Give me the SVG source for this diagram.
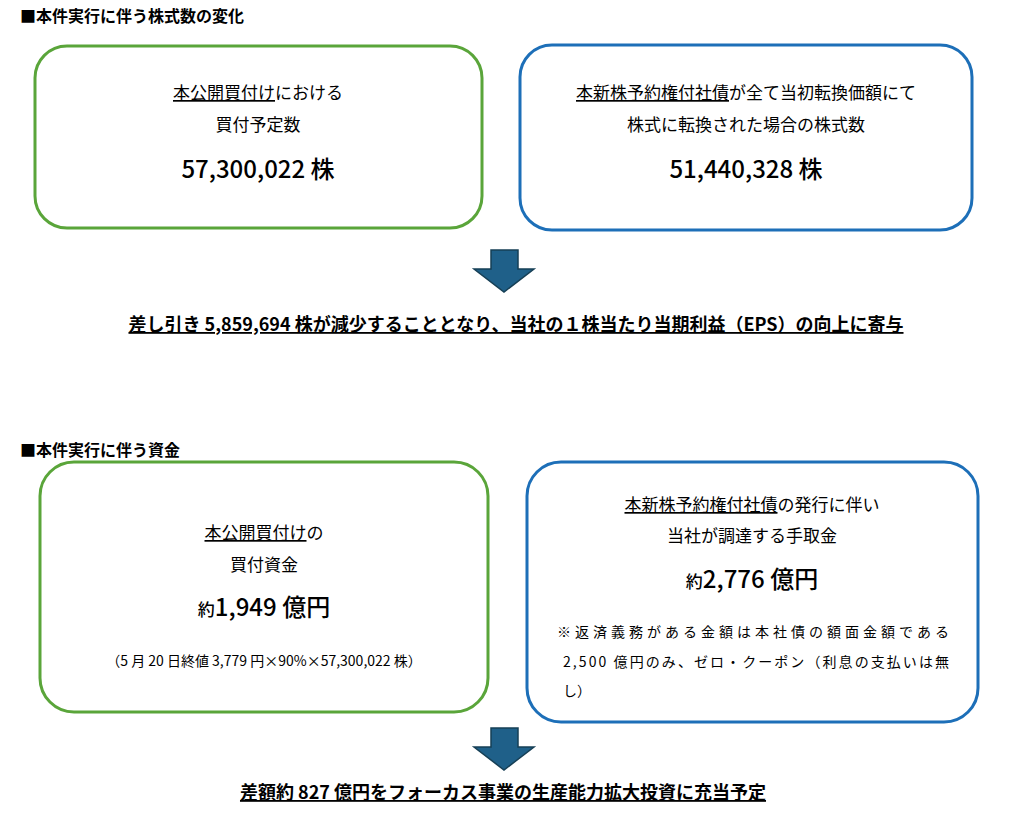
<svg xmlns="http://www.w3.org/2000/svg" width="1015" height="814" viewBox="0 0 1015 814">
<style>
text{font-family:"Noto Sans CJK JP","Noto Sans",sans-serif;fill:#000}
.h{font-size:16px;font-weight:bold}
.m{font-size:17px;text-anchor:middle}
.b{font-size:24px;text-anchor:middle;font-weight:500}
.s{font-size:14px}
.sum{font-size:18px;font-weight:bold;text-anchor:middle;text-decoration:underline}
.g{fill:#fff;stroke:#5aa53a;stroke-width:3}
.bl{fill:#fff;stroke:#1d6fb8;stroke-width:3}
.arr{fill:#1f6089;stroke:#163f55;stroke-width:1.5}
</style>
<rect width="1015" height="814" fill="#fff"/>
<text class="h" x="20" y="22">■本件実行に伴う株式数の変化</text>
<g id="box1"><rect class="g" x="35" y="46" width="447" height="182" rx="32"/>
<text class="m" x="258" y="99"><tspan text-decoration="underline">本公開買付け</tspan>における</text>
<text class="m" x="258" y="131">買付予定数</text>
<text class="b" x="258" y="178">57,300,022 株</text></g>
<g id="box2"><rect class="bl" x="520" y="45" width="452" height="185" rx="32"/>
<text class="m" x="746" y="99"><tspan text-decoration="underline">本新株予約権付社債</tspan>が全て当初転換価額にて</text>
<text class="m" x="746" y="131">株式に転換された場合の株式数</text>
<text class="b" x="746" y="178">51,440,328 株</text></g>
<g id="connectors">
<polygon class="arr" points="491,250 518,250 518,269 534,269 504,292 474,269 491,269"/>
<polygon class="arr" points="491,728 518,728 518,747 534,747 504,770 474,747 491,747"/>
</g>
<g id="sum1"><text class="sum" x="516" y="331">差し引き 5,859,694 株が減少することとなり、当社の１株当たり当期利益（EPS）の向上に寄与</text></g>
<text class="h" x="20" y="456">■本件実行に伴う資金</text>
<g id="box3"><rect class="g" x="40" y="462" width="448" height="250" rx="34"/>
<text class="m" x="264" y="539"><tspan text-decoration="underline">本公開買付け</tspan>の</text>
<text class="m" x="264" y="571">買付資金</text>
<text class="b" x="264" y="616"><tspan font-size="17">約</tspan>1,949 億円</text>
<text class="s" x="264" y="666" text-anchor="middle">（5 月 20 日終値 3,779 円×90%×57,300,022 株）</text></g>
<g id="box4"><rect class="bl" x="527" y="462" width="451" height="260" rx="34"/>
<text class="m" x="752" y="511"><tspan text-decoration="underline">本新株予約権付社債</tspan>の発行に伴い</text>
<text class="m" x="752" y="542">当社が調達する手取金</text>
<text class="b" x="752" y="588"><tspan font-size="17">約</tspan>2,776 億円</text>
<text class="s" x="557" y="637" textLength="392" lengthAdjust="spacing">※返済義務がある金額は本社債の額面金額である</text>
<text class="s" x="563" y="667" textLength="386" lengthAdjust="spacing">2,500 億円のみ、ゼロ・クーポン（利息の支払いは無</text>
<text class="s" x="563" y="696">し）</text></g>
<g id="sum2"><text class="sum" x="503" y="799">差額約 827 億円をフォーカス事業の生産能力拡大投資に充当予定</text></g>
</svg>
